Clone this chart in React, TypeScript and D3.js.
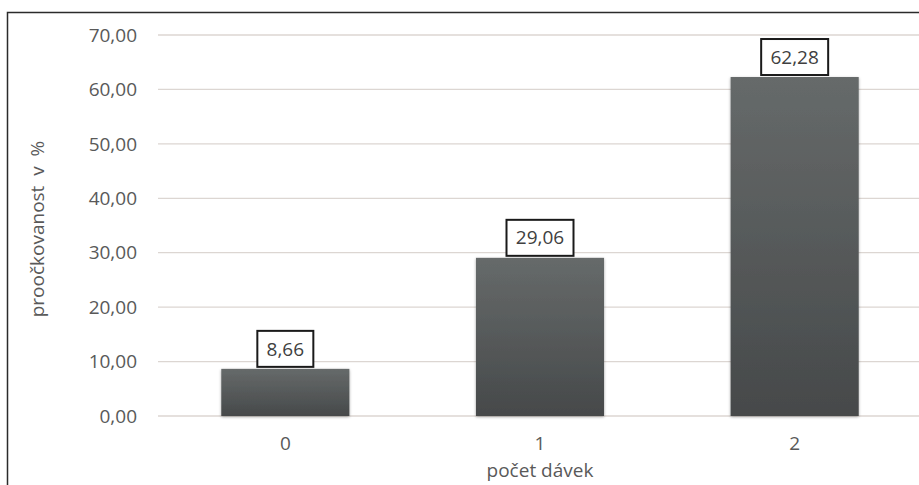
import React, { useEffect, useRef } from "react";
import * as d3 from "d3";

const categories = ["0", "1", "2"];
const values = [8.66, 29.06, 62.28];
const yTicks = [0, 10, 20, 30, 40, 50, 60, 70];
const yTitle = "proočkovanost  v  %";
const xTitle = "počet dávek";

const W = 919;
const H = 485;
const fmt = (v: number) => v.toFixed(2).replace(".", ",");

export default function App() {
  const ref = useRef<SVGSVGElement | null>(null);

  useEffect(() => {
    const svg = d3.select(ref.current);
    svg.selectAll("*").remove();
    const font = "'Open Sans', 'DejaVu Sans', sans-serif";
    const fs = 19;

    const x = d3.scaleBand<string>().domain(categories).range([158, 922]).paddingInner(0.497).paddingOuter(0.2485);
    const y = d3.scaleLinear().domain([0, 70]).range([416, 35]);

    const defs = svg.append("defs");
    const grad = defs.append("linearGradient").attr("id", "barGrad").attr("x1", 0).attr("y1", 0).attr("x2", 0).attr("y2", 1);
    grad.append("stop").attr("offset", "0%").attr("stop-color", "#666a6a");
    grad.append("stop").attr("offset", "100%").attr("stop-color", "#46494a");
    const blur = defs.append("filter").attr("id", "shadow").attr("x", "-10%").attr("y", "-10%").attr("width", "120%").attr("height", "120%");
    blur.append("feGaussianBlur").attr("in", "SourceAlpha").attr("stdDeviation", 1.5).attr("result", "b");
    blur.append("feOffset").attr("in", "b").attr("dx", 0).attr("dy", 1).attr("result", "o");
    blur.append("feComponentTransfer").attr("in", "o").attr("result", "s").append("feFuncA").attr("type", "linear").attr("slope", 0.35);
    const merge = blur.append("feMerge");
    merge.append("feMergeNode").attr("in", "s");
    merge.append("feMergeNode").attr("in", "SourceGraphic");

    svg.append("rect").attr("width", W).attr("height", H).attr("fill", "#ffffff");

    // outer chart frame
    svg.append("rect").attr("x", 7.5).attr("y", 12.5).attr("width", W + 20).attr("height", H + 20)
      .attr("fill", "none").attr("stroke", "#2b2b2b").attr("stroke-width", 1.5);

    // gridlines
    svg.append("g").selectAll("line").data(yTicks).join("line")
      .attr("x1", 158).attr("x2", 919)
      .attr("y1", (d) => y(d)).attr("y2", (d) => y(d))
      .attr("stroke", "#dcd6d2").attr("stroke-width", 1.3);

    // y tick labels
    svg.append("g").selectAll("text").data(yTicks).join("text")
      .attr("x", 137).attr("y", (d) => y(d)).attr("dy", "0.35em")
      .attr("text-anchor", "end").attr("font-family", font).attr("font-size", fs)
      .attr("fill", "#595959").text((d) => fmt(d));

    // bars
    svg.append("g").selectAll("rect").data(values).join("rect")
      .attr("x", (_, i) => x(categories[i])!)
      .attr("width", x.bandwidth())
      .attr("y", (d) => y(d))
      .attr("height", (d) => y(0) - y(d))
      .attr("fill", "url(#barGrad)")
      .attr("filter", "url(#shadow)");

    // value labels in boxes
    const lab = svg.append("g").selectAll("g").data(values).join("g")
      .attr("transform", (d, i) => `translate(${x(categories[i])! + x.bandwidth() / 2},${y(d) - 20})`);
    lab.append("rect").attr("x", (d) => (d < 10 ? -28 : -33.5)).attr("y", -18)
      .attr("width", (d) => (d < 10 ? 56 : 67)).attr("height", 36)
      .attr("fill", "#ffffff").attr("stroke", "#1a1a1a").attr("stroke-width", 2);
    lab.append("text").attr("text-anchor", "middle").attr("dy", "0.35em")
      .attr("font-family", font).attr("font-size", fs).attr("fill", "#404040")
      .text((d) => fmt(d));

    // x tick labels
    svg.append("g").selectAll("text").data(categories).join("text")
      .attr("x", (d) => x(d)! + x.bandwidth() / 2).attr("y", 443).attr("dy", "0.35em")
      .attr("text-anchor", "middle").attr("font-family", font).attr("font-size", fs)
      .attr("fill", "#595959").text((d) => d);

    svg.append("text").attr("x", 540).attr("y", 470).attr("dy", "0.35em")
      .attr("text-anchor", "middle").attr("font-family", font).attr("font-size", fs)
      .attr("fill", "#595959").text(xTitle);

    svg.append("text").attr("transform", `translate(37,229) rotate(-90)`).attr("dy", "0.35em")
      .attr("text-anchor", "middle").attr("font-family", font).attr("font-size", fs)
      .attr("fill", "#595959").attr("xml:space", "preserve").text(yTitle);
  }, []);

  return (
    <svg ref={ref} width={W} height={H} style={{ position: "absolute", left: 0, top: 0, display: "block" }} />
  );
}
